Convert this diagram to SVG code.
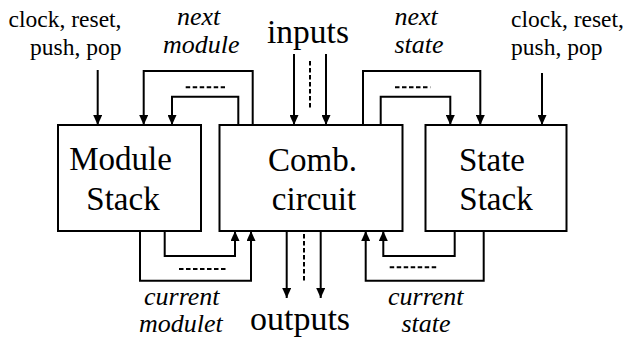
<svg xmlns="http://www.w3.org/2000/svg" width="627" height="341" viewBox="0 0 627 341" font-family="Times New Roman, Liberation Serif, serif">
<style>
.box{fill:#fff;stroke:#000;stroke-width:2}
.w{fill:none;stroke:#000;stroke-width:2}
.d{fill:none;stroke:#000;stroke-width:2;stroke-dasharray:4.5 2.5}
</style>
<defs>
<marker id="ah" markerUnits="userSpaceOnUse" markerWidth="10" markerHeight="9" refX="10" refY="4.5" orient="auto">
<path d="M0,0 L10,4.5 L0,9 z" fill="#000"/>
</marker>
</defs>
<g id="module-stack">
<rect class="box" x="58" y="125" width="143" height="106"/>
<text font-family="Times New Roman, Liberation Serif, serif" font-size="33" text-anchor="middle" x="120.5" y="170">Module</text>
<text font-family="Times New Roman, Liberation Serif, serif" font-size="33" text-anchor="middle" x="123" y="210">Stack</text>
</g>
<g id="comb-circuit">
<rect class="box" x="219.5" y="125" width="183" height="106"/>
<text font-family="Times New Roman, Liberation Serif, serif" font-size="33" text-anchor="middle" x="312.5" y="171">Comb.</text>
<text font-family="Times New Roman, Liberation Serif, serif" font-size="33" text-anchor="middle" x="314" y="210">circuit</text>
</g>
<g id="state-stack">
<rect class="box" x="425.5" y="125" width="141" height="106"/>
<text font-family="Times New Roman, Liberation Serif, serif" font-size="33" text-anchor="middle" x="492" y="171">State</text>
<text font-family="Times New Roman, Liberation Serif, serif" font-size="33" text-anchor="middle" x="496" y="210">Stack</text>
</g>
<g id="labels">
<text font-family="Times New Roman, Liberation Serif, serif" font-size="23.5" x="121.5" y="27" text-anchor="end">clock, reset,</text>
<text font-family="Times New Roman, Liberation Serif, serif" font-size="23.5" x="121.5" y="55" text-anchor="end">push, pop</text>
<text font-family="Times New Roman, Liberation Serif, serif" font-size="23.5" x="511" y="27">clock, reset,</text>
<text font-family="Times New Roman, Liberation Serif, serif" font-size="23.5" x="511" y="55">push, pop</text>
<text font-family="Times New Roman, Liberation Serif, serif" font-size="26" font-style="italic" x="177" y="25">next</text>
<text font-family="Times New Roman, Liberation Serif, serif" font-size="26" font-style="italic" x="163" y="53">module</text>
<text font-family="Times New Roman, Liberation Serif, serif" font-size="26" font-style="italic" x="394.5" y="25">next</text>
<text font-family="Times New Roman, Liberation Serif, serif" font-size="26" font-style="italic" x="394.5" y="53">state</text>
<text font-family="Times New Roman, Liberation Serif, serif" font-size="26" font-style="italic" x="144" y="305">current</text>
<text font-family="Times New Roman, Liberation Serif, serif" font-size="26" font-style="italic" x="139" y="332">modulet</text>
<text font-family="Times New Roman, Liberation Serif, serif" font-size="26" font-style="italic" x="388" y="305">current</text>
<text font-family="Times New Roman, Liberation Serif, serif" font-size="26" font-style="italic" x="401.5" y="332">state</text>
<text font-family="Times New Roman, Liberation Serif, serif" font-size="33.5" text-anchor="middle" x="308" y="43">inputs</text>
<text font-family="Times New Roman, Liberation Serif, serif" font-size="34" text-anchor="middle" x="300" y="330">outputs</text>
</g>
<g id="connectors">
<polyline class="w" points="97.7,70 97.7,125" marker-end="url(#ah)"/>
<polyline class="w" points="252.7,125 252.7,71 143.7,71 143.7,125" marker-end="url(#ah)"/>
<polyline class="w" points="238.3,125 238.3,96.7 172,96.7 172,125" marker-end="url(#ah)"/>
<line class="d" x1="185.7" y1="87.3" x2="225" y2="87.3"/>
<polyline class="w" points="294,54 294,125" marker-end="url(#ah)"/>
<line class="d" x1="310" y1="61" x2="310" y2="110"/>
<polyline class="w" points="326,54 326,125" marker-end="url(#ah)"/>
<polyline class="w" points="363,125 363,71 480.3,71 480.3,125" marker-end="url(#ah)"/>
<polyline class="w" points="380.7,125 380.7,96.7 450.3,96.7 450.3,125" marker-end="url(#ah)"/>
<line class="d" x1="395" y1="87.3" x2="430.3" y2="87.3"/>
<polyline class="w" points="542,73 542,125" marker-end="url(#ah)"/>
<polyline class="w" points="164.7,231 164.7,256 235,256 235,231" marker-end="url(#ah)"/>
<polyline class="w" points="140,231 140,280.7 251,280.7 251,231" marker-end="url(#ah)"/>
<line class="d" x1="179" y1="269" x2="226.7" y2="269"/>
<polyline class="w" points="286.7,231 286.7,298" marker-end="url(#ah)"/>
<line class="d" x1="304" y1="234" x2="304" y2="283"/>
<polyline class="w" points="320.7,231 320.7,298" marker-end="url(#ah)"/>
<polyline class="w" points="454.7,231 454.7,256 383.3,256 383.3,231" marker-end="url(#ah)"/>
<polyline class="w" points="483.7,231 483.7,280.7 365.7,280.7 365.7,231" marker-end="url(#ah)"/>
<line class="d" x1="389.7" y1="267.3" x2="438.7" y2="267.3"/>
</g>
</svg>
